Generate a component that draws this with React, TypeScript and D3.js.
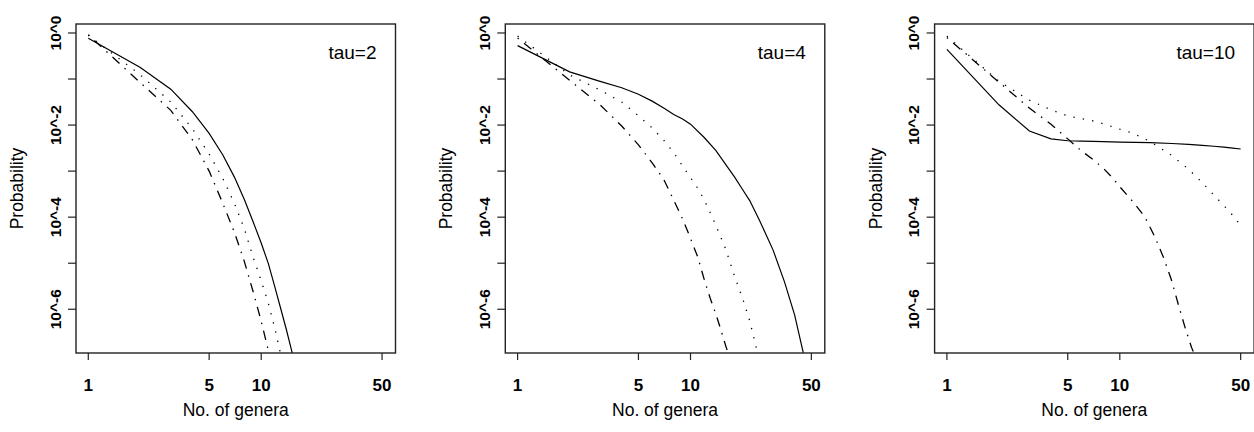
import * as d3 from 'd3';

// log10(probability), against the number of genera
const tau2Genera = [1, 2, 3, 4, 5, 6, 7, 8, 9, 10, 11, 12, 13, 14, 15, 16];
const tau2Solid = [-0.115, -0.75, -1.22, -1.71, -2.18, -2.65, -3.13, -3.62, -4.11, -4.56, -5.01, -5.52, -6.0, -6.45, -6.9, -7.32];
const tau2DottedGenera = [1, 2, 3, 4, 5, 6, 7, 8, 9, 10, 11, 12, 13];
const tau2Dotted = [-0.05, -0.91, -1.5, -2.08, -2.63, -3.16, -3.7, -4.26, -4.88, -5.38, -5.87, -6.42, -7.0];
const tau2DotDashGenera = [1, 2, 3, 4, 5, 6, 7, 8, 9, 10, 11, 12];
const tau2DotDash = [-0.04, -1.08, -1.68, -2.32, -3.0, -3.7, -4.33, -4.97, -5.63, -6.26, -6.9, -7.55];

const tau4SolidGenera = [1, 2, 3, 4, 5, 6, 7, 8, 9, 10, 12, 14, 16, 18, 20, 22, 25, 30, 35, 40, 45, 47];
const tau4Solid = [-0.275, -0.845, -1.05, -1.19, -1.33, -1.48, -1.63, -1.77, -1.87, -1.98, -2.27, -2.55, -2.86, -3.13, -3.4, -3.64, -4.06, -4.71, -5.41, -6.12, -6.96, -7.3];
const tau4DottedGenera = [1, 2, 3, 4, 5, 6, 7, 8, 9, 10, 11, 12, 14, 16, 18, 20, 22, 24, 25];
const tau4Dotted = [-0.065, -0.91, -1.24, -1.5, -1.8, -2.06, -2.33, -2.6, -2.89, -3.14, -3.37, -3.62, -4.17, -4.7, -5.29, -5.76, -6.25, -6.83, -7.08];
const tau4DotDashGenera = [1, 2, 3, 4, 5, 6, 7, 8, 9, 10, 11, 12, 13, 14, 15, 16, 17];
const tau4DotDash = [-0.11, -1.03, -1.56, -2.02, -2.43, -2.82, -3.18, -3.63, -4.04, -4.46, -4.86, -5.35, -5.76, -6.1, -6.45, -6.8, -7.1];

const tau10SolidGenera = [1, 2, 3, 4, 5, 6, 7, 8, 10, 15, 20, 25, 30, 35, 40, 45, 50];
const tau10Solid = [-0.355, -1.56, -2.13, -2.3, -2.34, -2.35, -2.355, -2.36, -2.37, -2.38, -2.4, -2.42, -2.44, -2.46, -2.48, -2.5, -2.52];
const tau10DottedGenera = [1, 2, 3, 4, 5, 6, 7, 8, 10, 12, 15, 20, 25, 30, 35, 40, 45, 50];
const tau10Dotted = [-0.07, -1.05, -1.46, -1.67, -1.8, -1.86, -1.91, -1.97, -2.09, -2.18, -2.36, -2.66, -2.96, -3.25, -3.52, -3.75, -3.96, -4.18];
const tau10DotDashGenera = [1, 2, 3, 4, 5, 6, 7, 8, 9, 10, 12, 14, 16, 18, 20, 22, 24, 26, 28];
const tau10DotDash = [-0.1, -1.07, -1.63, -1.98, -2.3, -2.56, -2.75, -2.93, -3.13, -3.34, -3.68, -4.0, -4.44, -4.9, -5.39, -5.95, -6.43, -6.83, -7.12];

const xTicks = [1, 5, 10, 50];
const yTickExponents = [0, -1, -2, -3, -4, -5, -6];
const yLabelExponents = [0, -2, -4, -6];

const panels = [
  { label: 'tau=2', solid: [tau2Genera, tau2Solid], dotted: [tau2DottedGenera, tau2Dotted], dotdash: [tau2DotDashGenera, tau2DotDash] },
  { label: 'tau=4', solid: [tau4SolidGenera, tau4Solid], dotted: [tau4DottedGenera, tau4Dotted], dotdash: [tau4DotDashGenera, tau4DotDash] },
  { label: 'tau=10', solid: [tau10SolidGenera, tau10Solid], dotted: [tau10DottedGenera, tau10Dotted], dotdash: [tau10DotDashGenera, tau10DotDash] },
];

const width = 1254;
const height = 432;
const boxTop = 24;
const boxBottom = 353;
const boxWidth = 319.5;
const firstLeft = 76;
const panelStep = 429.3;
const font = '"Liberation Sans", Arial, Helvetica, sans-serif';

const lineStyles = {
  solid: undefined,
  dotted: '1.3 8.2',
  dotdash: '1.5 6.8 9.5 6.8',
};

const Panel = ({ panel, index }) => {
  const left = firstLeft + index * panelStep;
  const right = left + boxWidth;
  const x = d3.scaleLog().domain([0.849, 59.8]).range([left, right]);
  const y = d3.scaleLog().domain([Math.pow(10, -6.95), Math.pow(10, 0.195)]).range([boxBottom, boxTop]);
  const line = d3
    .line<[number, number]>()
    .x((d) => x(d[0]))
    .y((d) => y(Math.pow(10, d[1])));
  const clipId = `clip-${index}`;
  const midY = (boxTop + boxBottom) / 2;

  return (
    <g>
      <defs>
        <clipPath id={clipId}>
          <rect x={left} y={boxTop} width={boxWidth} height={boxBottom - boxTop} />
        </clipPath>
      </defs>
      <g clipPath={`url(#${clipId})`}>
        {(['solid', 'dotted', 'dotdash'] as const).map((key) => {
          const [xs, ys] = panel[key];
          const points = xs.map((g, i) => [g, ys[i]] as [number, number]);
          return (
            <path
              key={key}
              d={line(points) || ''}
              fill="none"
              stroke="#000"
              strokeWidth={key === 'solid' ? 1.2 : 1.3}
              strokeDasharray={lineStyles[key]}
            />
          );
        })}
      </g>
      <rect x={left} y={boxTop} width={boxWidth} height={boxBottom - boxTop} fill="none" stroke="#222" strokeWidth={1.4} />
      {xTicks.map((t) => (
        <g key={t}>
          <line x1={x(t)} x2={x(t)} y1={boxBottom} y2={boxBottom + 7} stroke="#222" strokeWidth={1.2} />
          <text x={x(t)} y={390.5} textAnchor="middle" fontSize={17} fontWeight="bold" fontFamily={font}>
            {t}
          </text>
        </g>
      ))}
      {yTickExponents.map((e) => (
        <line key={e} x1={left - 8} x2={left} y1={y(Math.pow(10, e))} y2={y(Math.pow(10, e))} stroke="#222" strokeWidth={1.2} />
      ))}
      {yLabelExponents.map((e) => (
        <text
          key={e}
          transform={`translate(${left - 21}, ${y(Math.pow(10, e))}) rotate(-90)`}
          textAnchor="middle"
          dominantBaseline="central"
          fontSize={15.5}
          fontWeight="bold"
          fontFamily={font}
        >
          {`10^${e}`}
        </text>
      ))}
      <text x={(left + right) / 2} y={416} textAnchor="middle" fontSize={17.5} fontFamily={font}>
        No. of genera
      </text>
      <text
        transform={`translate(${left - 59}, ${midY}) rotate(-90)`}
        textAnchor="middle"
        dominantBaseline="central"
        fontSize={17.5}
        fontFamily={font}
      >
        Probability
      </text>
      <text x={right - 19} y={58.5} textAnchor="end" fontSize={19} fontFamily={font}>
        {panel.label}
      </text>
    </g>
  );
};

export default function App() {
  return (
    <svg
      width={width}
      height={height}
      viewBox={`0 0 ${width} ${height}`}
      style={{ position: 'absolute', left: 0, top: 0, background: '#fff' }}
    >
      <rect width={width} height={height} fill="#fff" />
      {panels.map((panel, i) => (
        <Panel key={panel.label} panel={panel} index={i} />
      ))}
    </svg>
  );
}
